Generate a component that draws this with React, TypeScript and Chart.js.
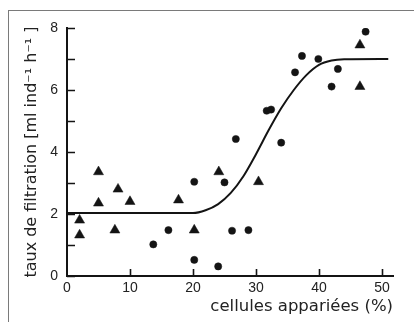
import { useEffect, useRef } from "react";
import { Chart, registerables } from "chart.js";

Chart.register(...registerables);

// Fitted response curve (filtration rate vs. paired cells)
const curveX = [0, 20, 22, 24, 26, 28, 30, 32, 34, 36, 38, 40, 42, 44, 51];
const curveY = [2.03, 2.03, 2.12, 2.32, 2.68, 3.22, 3.93, 4.7, 5.41, 6.0, 6.48, 6.81, 6.95, 6.99, 7.0];

// Observations, series 1 (triangles)
const triangleX = [2.0, 2.0, 5.0, 5.0, 7.6, 8.1, 10.0, 17.7, 20.2, 24.1, 30.4, 46.5, 46.5];
const triangleY = [1.8, 1.32, 3.36, 2.35, 1.48, 2.8, 2.4, 2.45, 1.48, 3.36, 3.04, 7.45, 6.11];

// Observations, series 2 (dots)
const circleX = [13.7, 16.1, 20.2, 20.2, 24.0, 25.0, 26.2, 26.8, 28.8, 31.7, 32.4, 34.0, 36.2, 37.3, 39.9, 42.0, 43.0, 47.4];
const circleY = [1.02, 1.48, 3.04, 0.52, 0.31, 3.02, 1.46, 4.42, 1.48, 5.33, 5.37, 4.3, 6.57, 7.1, 7.0, 6.11, 6.68, 7.88];

// Axis ticks
const xTicks = [0, 10, 20, 30, 40, 50];
const xTickLabels = ["0", "10", "20", "30", "40", "50"];
const yTicks = [0, 1, 2, 3, 4, 5, 6, 7, 8];
const yTickLabels = ["0", "", "2", "", "4", "", "6", "", "8"];

const xTitle = "cellules appariées (%)";
const yTitle = "taux de filtration [ml ind\u207B\u00B9 h\u207B\u00B9 ]";

const ink = "#141414";
const textInk = "#222222";

const toPoints = (xs: number[], ys: number[]) => xs.map((x, i) => ({ x, y: ys[i] }));

// Tick marks pointing into the plot area
const inwardTicks = {
  id: "inwardTicks",
  afterDatasetsDraw(chart: any) {
    const { ctx, chartArea, scales } = chart;
    const xs = scales.x;
    const ys = scales.y;
    ctx.save();
    ctx.strokeStyle = ink;
    ctx.lineWidth = 1.6;
    ctx.beginPath();
    ys.ticks.forEach((t: any) => {
      const py = Math.round(ys.getPixelForValue(t.value)) + 0.5;
      ctx.moveTo(chartArea.left, py);
      ctx.lineTo(chartArea.left + 8, py);
    });
    xs.ticks.forEach((t: any) => {
      if (t.value === 0) return;
      const px = Math.round(xs.getPixelForValue(t.value)) + 0.5;
      ctx.moveTo(px, chartArea.bottom);
      ctx.lineTo(px, chartArea.bottom - 7);
    });
    ctx.stroke();
    ctx.restore();
  },
};

export default function App() {
  const canvasRef = useRef<HTMLCanvasElement | null>(null);

  useEffect(() => {
    const canvas = canvasRef.current;
    if (!canvas) return;
    const chart = new Chart(canvas, {
      type: "scatter",
      data: {
        datasets: [
          {
            label: "courbe",
            data: toPoints(curveX, curveY),
            showLine: true,
            cubicInterpolationMode: "monotone",
            borderColor: ink,
            borderWidth: 2,
            pointRadius: 0,
            fill: false,
          },
          {
            label: "triangles",
            data: toPoints(triangleX, triangleY),
            pointStyle: "triangle",
            pointRadius: 5.8,
            backgroundColor: ink,
            borderColor: ink,
            borderWidth: 0.5,
          },
          {
            label: "points",
            data: toPoints(circleX, circleY),
            pointStyle: "circle",
            pointRadius: 3.6,
            backgroundColor: ink,
            borderColor: ink,
            borderWidth: 0.5,
          },
        ],
      },
      options: {
        responsive: false,
        animation: false,
        events: [],
        layout: { padding: { left: 0, right: 21, top: 28, bottom: 0 } },
        plugins: {
          legend: { display: false },
          tooltip: { enabled: false },
        },
        scales: {
          x: {
            type: "linear",
            min: 0,
            max: 51.75,
            grid: { display: false, drawTicks: false },
            border: { display: true, color: ink, width: 2 },
            afterBuildTicks: (scale: any) => {
              scale.ticks = xTicks.map((v) => ({ value: v }));
            },
            afterFit: (scale: any) => {
              scale.height = 46;
            },
            ticks: {
              padding: 4,
              autoSkip: false,
              maxRotation: 0,
              color: textInk,
              font: { family: "'Liberation Sans', Arial, sans-serif", size: 14 },
              callback: (v: any) => xTickLabels[xTicks.indexOf(Number(v))] ?? "",
            },
            title: {
              display: true,
              text: xTitle,
              align: "end",
              color: textInk,
              font: { family: "'DejaVu Sans', sans-serif", size: 16.5 },
              padding: { top: 0, bottom: 5.5 },
            },
          },
          y: {
            type: "linear",
            min: 0,
            max: 8,
            grid: { display: false, drawTicks: false },
            border: { display: true, color: ink, width: 2 },
            afterBuildTicks: (scale: any) => {
              scale.ticks = yTicks.map((v) => ({ value: v }));
            },
            afterFit: (scale: any) => {
              scale.width = 67;
            },
            ticks: {
              padding: 9,
              autoSkip: false,
              color: textInk,
              font: { family: "'Liberation Sans', Arial, sans-serif", size: 14 },
              callback: (v: any) => yTickLabels[yTicks.indexOf(Number(v))] ?? "",
            },
            title: {
              display: true,
              text: yTitle,
              align: "center",
              color: textInk,
              font: { family: "'DejaVu Sans', sans-serif", size: 16 },
              padding: { top: 22, bottom: 0 },
            },
          },
        },
      },
      plugins: [inwardTicks],
    } as any);
    return () => chart.destroy();
  }, []);

  return (
    <div style={{ position: "absolute", left: 0, top: 0, width: 414, height: 322, background: "#fff" }}>
      <div
        style={{
          position: "absolute",
          left: 8,
          top: 10,
          width: 406,
          height: 312,
          borderTop: "1px solid #7a7a7a",
          borderLeft: "1px solid #7a7a7a",
          boxSizing: "border-box",
        }}
      />
      <canvas ref={canvasRef} width={414} height={322} style={{ position: "absolute", left: 0, top: 0 }} />
    </div>
  );
}
